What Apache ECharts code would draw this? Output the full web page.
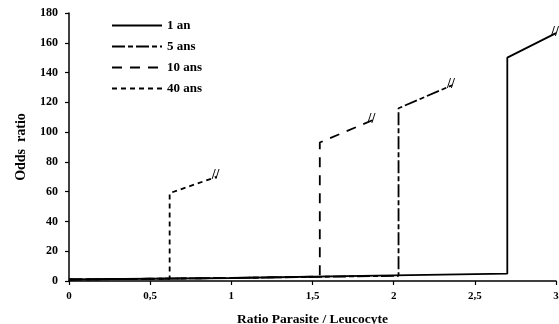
<!DOCTYPE html>
<html lang="fr" style="height: 100%">
<head>
  <meta charset="utf-8">
</head>
<body style="height: 100%; margin: 0; background: #fff">
  <div id="container" style="width: 559px; height: 324px"></div>

  <script type="text/javascript" src="https://fastly.jsdelivr.net/npm/echarts@6/dist/echarts.min.js"></script>

  <script type="text/javascript">
    // curves: [ratio, odds ratio]
    const un_an = [[0, 1], [1, 2], [2, 3.8], [2.7, 5], [2.7, 150], [3.0, 166.5]];
    const cinq_ans = [[0, 1], [1, 2], [2.03, 3.5], [2.03, 116], [2.36, 131.5]];
    const dix_ans = [[0, 1], [1, 2], [1.545, 3], [1.545, 93], [1.87, 108]];
    const quarante_ans = [[0, 1], [0.62, 1.5], [0.62, 59], [0.91, 70]];

    const noms = ['1 an', '5 ans', '10 ans', '40 ans'];
    const tirets = ['solid', [13, 3, 5, 3], [10, 8], [5, 4]];
    const courbes = [un_an, cinq_ans, dix_ans, quarante_ans];

    const police = '"Liberation Serif", "DejaVu Serif", serif';

    var dom = document.getElementById('container');
    var myChart = echarts.init(dom, null, { renderer: 'canvas' });

    var series = courbes.map(function (d, i) {
      return {
        name: noms[i],
        type: 'line',
        symbol: 'none',
        data: d,
        lineStyle: { color: '#000', width: 1.8, type: tirets[i] },
        itemStyle: { color: '#000' },
        endLabel: {
          show: true,
          formatter: '//',
          distance: -5,
          offset: [0, -1],
          fontFamily: police,
          fontWeight: 'bold',
          fontSize: 14,
          color: '#000'
        },
        animation: false
      };
    });

    var option = {
      backgroundColor: '#fff',
      textStyle: { fontFamily: police },
      grid: { left: 69, right: 3, top: 13, bottom: 43, outerBoundsMode: 'none' },
      legend: {
        orient: 'vertical',
        left: 106,
        top: 14,
        itemWidth: 50,
        itemHeight: 8,
        itemGap: 8,
        data: noms,
        itemStyle: { opacity: 0 },
        textStyle: {
          fontFamily: police,
          fontWeight: 'bold',
          fontSize: 13,
          color: '#000'
        }
      },
      xAxis: {
        type: 'value',
        min: 0,
        max: 3,
        interval: 0.5,
        name: 'Ratio Parasite / Leucocyte',
        nameLocation: 'middle',
        nameGap: 32,
        nameTextStyle: { fontFamily: police, fontWeight: 'bold', fontSize: 13.5, color: '#000' },
        axisLine: { lineStyle: { color: '#000', width: 1.5 } },
        axisTick: { length: 4, lineStyle: { color: '#000', width: 1.2 } },
        splitLine: { show: false },
        axisLabel: {
          margin: 10,
          fontFamily: police,
          fontWeight: 'bold',
          fontSize: 11,
          color: '#000',
          formatter: function (v) { return String(v).replace('.', ','); }
        }
      },
      yAxis: {
        type: 'value',
        min: 0,
        max: 180,
        interval: 20,
        name: 'Odds  ratio',
        nameLocation: 'middle',
        nameGap: 41,
        nameTextStyle: { fontFamily: police, fontWeight: 'bold', fontSize: 14, color: '#000' },
        axisLine: { show: true, lineStyle: { color: '#000', width: 1.5 } },
        axisTick: { show: true, length: 4, lineStyle: { color: '#000', width: 1.2 } },
        splitLine: { show: false },
        axisLabel: {
          margin: 11,
          fontFamily: police,
          fontWeight: 'bold',
          fontSize: 12,
          color: '#000'
        }
      },
      series: series
    };

    myChart.setOption(option);
    window.addEventListener('resize', myChart.resize);
  </script>
</body>
</html>
